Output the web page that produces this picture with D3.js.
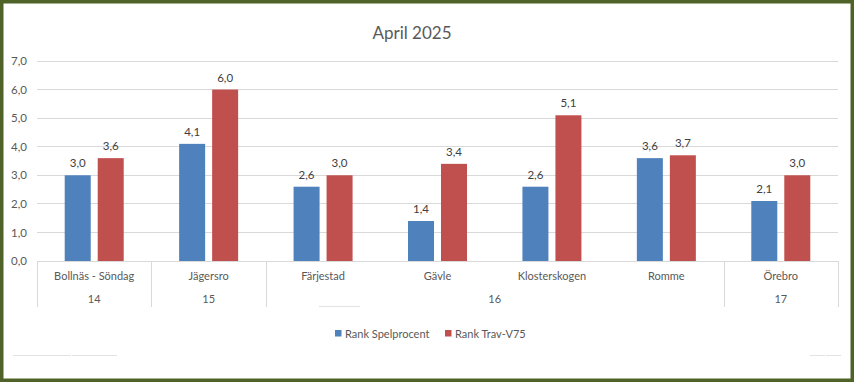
<!DOCTYPE html>
<html><head><meta charset="utf-8">
<script src="https://cdn.jsdelivr.net/npm/d3@7"></script>
<style>
html,body{margin:0;padding:0;background:#fff;}
svg{display:block;font-family:Lato,"Open Sans",sans-serif;}
</style></head>
<body>
<svg id="c" width="854" height="382"></svg>
<script>
const title = "April 2025";
const categories = ["Bollnäs - Söndag","Jägersro","Färjestad","Gävle","Klosterskogen","Romme","Örebro"];
const weeks = ["14","15","16","16","16","16","17"];
const seriesNames = ["Rank Spelprocent","Rank Trav-V75"];
const spelprocent = [3.0,4.1,2.6,1.4,2.6,3.6,2.1];
const travV75 = [3.6,6.0,3.0,3.4,5.1,3.7,3.0];
const yTicks = [0,1,2,3,4,5,6,7];
const colors = ["#4f81bd","#c0504d"];

const svg = d3.select("#c");
const W = 854, H = 382;
svg.append("rect").attr("x",0).attr("y",0).attr("width",W).attr("height",H).attr("fill","#fff");

const x0 = d3.scaleBand().domain(categories).range([37,838]).paddingInner(0).paddingOuter(0);
const x1 = d3.scaleBand().domain(seriesNames).range([0,x0.bandwidth()]).paddingInner(0.212).paddingOuter(0.84);
const y = d3.scaleLinear().domain([0,7]).range([261,61]);
const fmt = v => d3.format(".1f")(v).replace(".",",");
const textCol = "#595959";
const fs = 11;

// title
svg.append("text").attr("x",412).attr("y",39).attr("text-anchor","middle")
  .attr("font-size",17).attr("fill",textCol).text(title);

// gridlines
svg.append("g").selectAll("line").data(yTicks.filter(d=>d>0)).join("line")
  .attr("x1",37).attr("x2",838).attr("y1",d=>y(d)).attr("y2",d=>y(d))
  .attr("stroke","#d9d9d9").attr("stroke-width",1).attr("shape-rendering","crispEdges");

// y axis labels
const yAxis = d3.axisLeft(y).tickValues(yTicks).tickFormat(fmt).tickSize(0).tickPadding(0);
const gy = svg.append("g").attr("transform","translate(27,0)").call(yAxis);
gy.select(".domain").remove();
gy.selectAll("text").attr("font-size",11.5).attr("fill",textCol).attr("font-family","Lato,'Open Sans',sans-serif");

// bars
const data = categories.map((c,i)=>({c, vals:[spelprocent[i], travV75[i]]}));
const g = svg.append("g").selectAll("g").data(data).join("g")
  .attr("transform",d=>`translate(${x0(d.c)},0)`);
g.selectAll("rect").data(d=>d.vals.map((v,j)=>({s:seriesNames[j],v,j}))).join("rect")
  .attr("x",d=>x1(d.s)).attr("width",x1.bandwidth())
  .attr("y",d=>y(d.v)).attr("height",d=>y(0)-y(d.v)).attr("fill",d=>colors[d.j]);
g.selectAll("text").data(d=>d.vals.map((v,j)=>({s:seriesNames[j],v,j}))).join("text")
  .attr("x",d=>x1(d.s)+x1.bandwidth()/2).attr("y",d=>y(d.v)-8)
  .attr("text-anchor","middle").attr("font-size",11.5).attr("fill","#404040").text(d=>fmt(d.v));

// category axis line
svg.append("line").attr("x1",37).attr("x2",838).attr("y1",y(0)+0.5).attr("y2",y(0)+0.5)
  .attr("stroke","#d9d9d9");

// level-1 labels
svg.append("g").selectAll("text").data(categories).join("text")
  .attr("x",d=>x0(d)+x0.bandwidth()/2).attr("y",280).attr("text-anchor","middle")
  .attr("font-size",fs).attr("fill",textCol).text(d=>d);

// level-2 groups
const groups = [];
weeks.forEach((w,i)=>{
  const last = groups[groups.length-1];
  if(last && last.w===w){ last.end=i; } else groups.push({w,start:i,end:i});
});
const gx0 = gr => x0(categories[gr.start]);
const gx1 = gr => x0(categories[gr.end]) + x0.bandwidth();
svg.append("g").selectAll("text").data(groups).join("text")
  .attr("x",d=>(gx0(d)+gx1(d))/2).attr("y",303).attr("text-anchor","middle")
  .attr("font-size",fs).attr("fill",textCol).text(d=>d.w);
const bounds = [gx0(groups[0])].concat(groups.map(gx1));
svg.append("g").selectAll("line").data(bounds).join("line")
  .attr("x1",d=>Math.round(d)+0.5).attr("x2",d=>Math.round(d)+0.5).attr("y1",261).attr("y2",307)
  .attr("stroke","#d9d9d9");

// faint artifacts
const art = [[319,360,306.5],[13,71,355.5],[72,117,355.5],[810,825,355.5],[826,841,355.5]];
svg.append("g").selectAll("line").data(art).join("line")
  .attr("x1",d=>d[0]).attr("x2",d=>d[1]).attr("y1",d=>d[2]).attr("y2",d=>d[2])
  .attr("stroke","#e3e3e3");

// legend
const legX = [335,445];
const lg = svg.append("g").selectAll("g").data(seriesNames).join("g")
  .attr("transform",(d,i)=>`translate(${legX[i]},329)`);
lg.append("rect").attr("width",6.5).attr("height",6.5).attr("y",1).attr("fill",(d,i)=>colors[i]);
lg.append("text").attr("x",10).attr("y",8.5).attr("font-size",fs).attr("fill",textCol).text(d=>d);

// border
svg.append("rect").attr("x",1.75).attr("y",1.75).attr("width",W-3.5).attr("height",H-3.5)
  .attr("fill","none").attr("stroke","#4f6228").attr("stroke-width",3.5);
</script>
</body></html>
